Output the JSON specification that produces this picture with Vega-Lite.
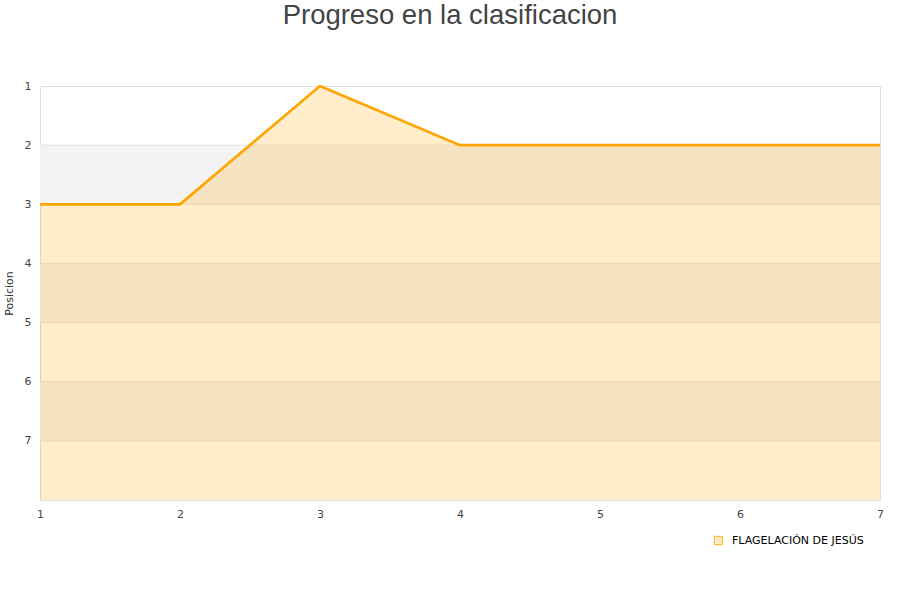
{
  "$schema": "https://vega.github.io/schema/vega-lite/v6.json",
  "autosize": "none",
  "width": 840,
  "height": 414,
  "padding": {"left": 40, "top": 86, "right": 20, "bottom": 100},
  "background": "white",
  "title": {
    "text": "Progreso en la clasificacion",
    "font": "Liberation Sans",
    "fontSize": 27.5,
    "fontWeight": "normal",
    "color": "#444444",
    "anchor": "middle",
    "dx": -10,
    "offset": 51
  },
  "datasets": {
    "progreso": [
      {"jornada": 1, "posicion": 3, "equipo": "FLAGELACIÓN DE JESÚS"},
      {"jornada": 2, "posicion": 3, "equipo": "FLAGELACIÓN DE JESÚS"},
      {"jornada": 3, "posicion": 1, "equipo": "FLAGELACIÓN DE JESÚS"},
      {"jornada": 4, "posicion": 2, "equipo": "FLAGELACIÓN DE JESÚS"},
      {"jornada": 5, "posicion": 2, "equipo": "FLAGELACIÓN DE JESÚS"},
      {"jornada": 6, "posicion": 2, "equipo": "FLAGELACIÓN DE JESÚS"},
      {"jornada": 7, "posicion": 2, "equipo": "FLAGELACIÓN DE JESÚS"}
    ],
    "bandas": [
      {"desde": 2, "hasta": 3},
      {"desde": 4, "hasta": 5},
      {"desde": 6, "hasta": 7}
    ],
    "lineas": [
      {"nivel": 2}, {"nivel": 3}, {"nivel": 4}, {"nivel": 5}, {"nivel": 6}, {"nivel": 7}
    ]
  },
  "config": {
    "view": {"stroke": "#dddddd", "strokeWidth": 1},
    "axis": {
      "labelFont": "DejaVu Sans",
      "labelFontSize": 11,
      "labelColor": "#444444",
      "titleFont": "DejaVu Sans",
      "titleFontSize": 11,
      "titleFontWeight": "normal",
      "titleColor": "#333333",
      "grid": false,
      "domain": false,
      "ticks": false
    }
  },
  "layer": [
    {
      "data": {"name": "bandas"},
      "mark": {"type": "rect", "fill": "#f3f3f3", "opacity": 1},
      "encoding": {
        "y": {"field": "desde", "type": "quantitative", "scale": {"domain": [1, 8], "reverse": true, "nice": false, "zero": false},
          "axis": {"values": [1, 2, 3, 4, 5, 6, 7], "format": "d", "title": "Posicion", "labelPadding": 9, "titlePadding": 10}},
        "y2": {"field": "hasta"}
      }
    },
    {
      "data": {"name": "lineas"},
      "mark": {"type": "rule", "color": "#e2e2e2", "strokeWidth": 1},
      "encoding": {
        "y": {"field": "nivel", "type": "quantitative"}
      }
    },
    {
      "data": {"name": "progreso"},
      "mark": {"type": "area", "color": "#FFA500", "fillOpacity": 0.2},
      "encoding": {
        "x": {
          "field": "jornada",
          "type": "quantitative",
          "scale": {"domain": [1, 7], "nice": false},
          "axis": {"values": [1, 2, 3, 4, 5, 6, 7], "format": "d", "title": null, "labelPadding": 8, "labelFlush": false}
        },
        "y": {"field": "posicion", "type": "quantitative"},
        "y2": {"datum": 8}
      }
    },
    {
      "data": {"name": "progreso"},
      "mark": {"type": "line", "strokeWidth": 2.7},
      "encoding": {
        "x": {"field": "jornada", "type": "quantitative"},
        "y": {"field": "posicion", "type": "quantitative"},
        "color": {
          "field": "equipo",
          "type": "nominal",
          "scale": {"range": ["#FFA500"]},
          "legend": {
            "title": null,
            "orient": "none",
            "legendX": 673,
            "legendY": 449,
            "symbolType": "square",
            "symbolSize": 70,
            "symbolFillColor": "#FFE8C4",
            "symbolStrokeColor": "#B08040",
            "symbolStrokeWidth": 0.8,
            "labelFont": "DejaVu Sans",
            "labelFontSize": 11,
            "labelColor": "#000000",
            "labelOffset": 8
          }
        }
      }
    }
  ]
}
